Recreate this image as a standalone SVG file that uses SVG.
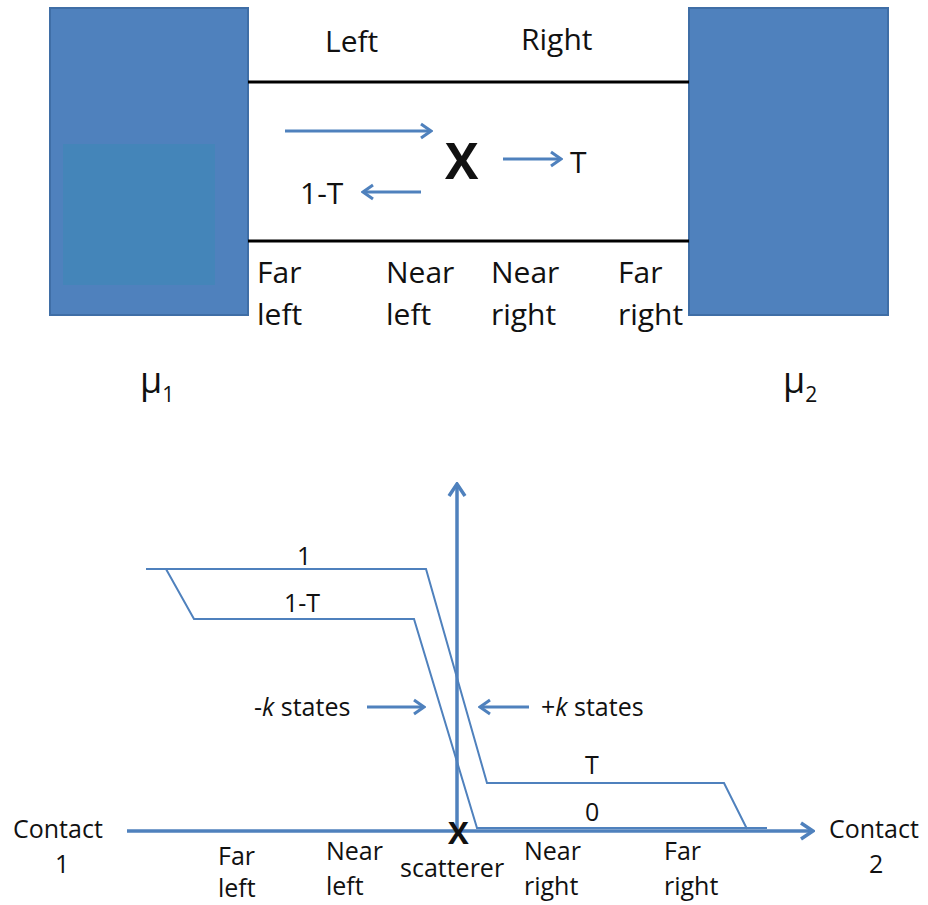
<svg xmlns="http://www.w3.org/2000/svg" width="928" height="905" viewBox="0 0 928 905">
<defs>
<style>
text{font-family:"Open Sans","Liberation Sans",sans-serif;fill:#111}
.t30{font-size:30px}
.t25{font-size:25px}
.blk{fill:#4F81BD;stroke:#3F6EA6;stroke-width:2}
.wire{stroke:#000;stroke-width:3;fill:none}
.ar{stroke:#4F81BD;stroke-width:3;fill:none}
.cv{stroke:#4F81BD;stroke-width:2;fill:none;stroke-linejoin:miter}
.ax{stroke:#4F81BD;stroke-width:3.5;fill:none}
</style>
<marker id="ah" viewBox="0 0 14 18" refX="12" refY="9" markerWidth="14" markerHeight="18" markerUnits="userSpaceOnUse" orient="auto"><path d="M2,2 L12,9 L2,16" fill="none" stroke="#4F81BD" stroke-width="3"/></marker>
<marker id="ahx" viewBox="0 0 16 20" refX="14" refY="10" markerWidth="16" markerHeight="20" markerUnits="userSpaceOnUse" orient="auto"><path d="M2,2 L14,10 L2,18" fill="none" stroke="#4F81BD" stroke-width="3.5"/></marker>
</defs>
<rect width="928" height="905" fill="#fff"/>

<g id="contact1">
<rect class="blk" x="50" y="8" width="198" height="307"/>
<rect x="63" y="144" width="152" height="141" fill="#4485B9"/>
</g>
<g id="contact2">
<rect class="blk" x="689" y="8" width="199" height="307"/>
</g>
<g id="channel">
<line class="wire" x1="248" y1="82" x2="689" y2="82"/>
<line class="wire" x1="248" y1="241" x2="689" y2="241"/>
</g>
<g id="top-labels">
<text class="t30" x="325" y="52">Left</text>
<text class="t30" x="521" y="50">Right</text>
<text x="445" y="179" font-size="50" font-weight="bold" font-family="Liberation Sans,sans-serif">X</text>
<text class="t30" x="570" y="173" font-size="34">T</text>
<text class="t30" x="300" y="204">1-T</text>
<text class="t30" x="257" y="283">Far</text>
<text class="t30" x="257" y="325">left</text>
<text class="t30" x="386" y="283">Near</text>
<text class="t30" x="386" y="325">left</text>
<text class="t30" x="491" y="283">Near</text>
<text class="t30" x="491" y="325">right</text>
<text class="t30" x="618" y="283">Far</text>
<text class="t30" x="618" y="325">right</text>
<text x="140" y="393" font-size="36">μ<tspan font-size="21" dy="9">1</tspan></text>
<text x="783" y="393" font-size="36">μ<tspan font-size="21" dy="9">2</tspan></text>
</g>

<g id="connectors">
<line class="ar" x1="285" y1="131" x2="431" y2="131" marker-end="url(#ah)"/>
<line class="ar" x1="503" y1="159" x2="561" y2="159" marker-end="url(#ah)"/>
<line class="ar" x1="421" y1="192" x2="363" y2="192" marker-end="url(#ah)"/>
<line class="ax" x1="127" y1="831" x2="813" y2="831" marker-end="url(#ahx)"/>
<line class="ax" x1="457" y1="831" x2="457" y2="484" marker-end="url(#ahx)"/>
<line class="ar" x1="367" y1="707" x2="424" y2="707" marker-end="url(#ah)"/>
<line class="ar" x1="529" y1="707" x2="480" y2="707" marker-end="url(#ah)"/>
</g>

<g id="curves">
<polyline class="cv" points="146,569 426,569 487,783 724,783 747,829"/>
<polyline class="cv" points="166,569 194,619 414,619 477,828 767,828"/>
</g>

<g id="plot-labels">
<text class="t25" x="297" y="565">1</text>
<text class="t25" x="284" y="612">1-T</text>
<text class="t25" x="254" y="716">-<tspan font-style="italic">k</tspan> states</text>
<text class="t25" x="541" y="716">+<tspan font-style="italic">k</tspan> states</text>
<text class="t25" x="585" y="774">T</text>
<text class="t25" x="585" y="821">0</text>
<text class="t25" x="13" y="838">Contact</text>
<text class="t25" x="55" y="873">1</text>
<text class="t25" x="829" y="838">Contact</text>
<text class="t25" x="869" y="873">2</text>
<text class="t25" x="218" y="865">Far</text>
<text class="t25" x="218" y="897">left</text>
<text class="t25" x="326" y="860">Near</text>
<text class="t25" x="326" y="895">left</text>
<text x="448" y="844" font-size="31" font-weight="bold" font-family="Liberation Sans,sans-serif">X</text>
<text class="t25" x="400" y="877">scatterer</text>
<text class="t25" x="524" y="860">Near</text>
<text class="t25" x="524" y="895">right</text>
<text class="t25" x="664" y="860">Far</text>
<text class="t25" x="664" y="895">right</text>
</g>
</svg>
